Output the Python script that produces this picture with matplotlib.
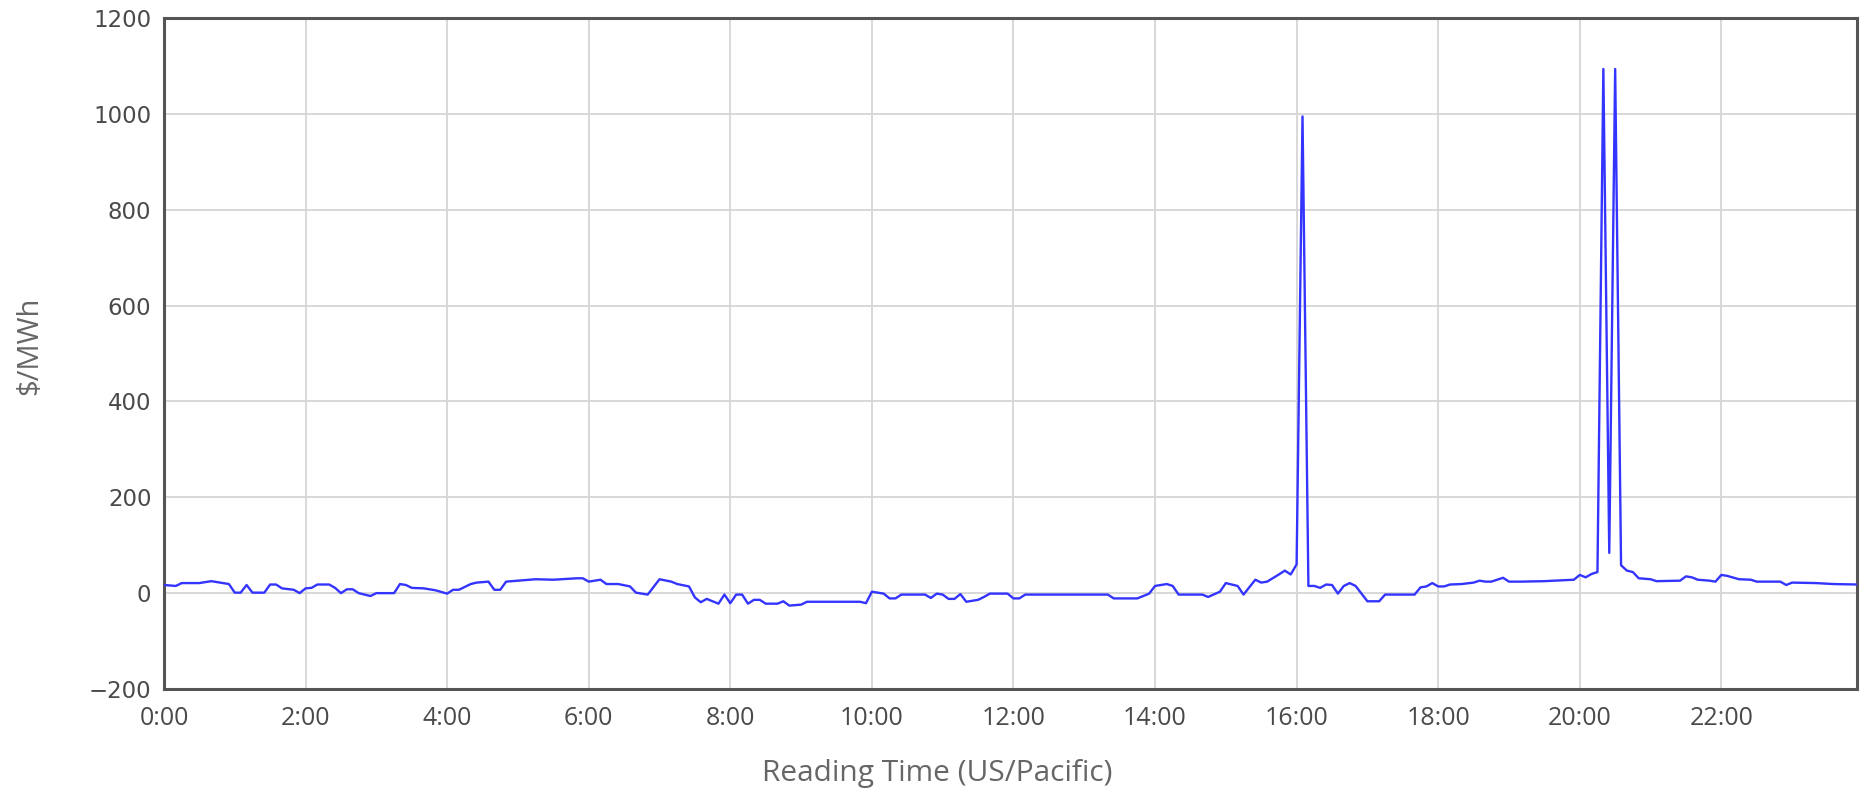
import matplotlib
matplotlib.use("Agg")
import matplotlib.pyplot as plt

# price readings, (time of day, $/MWh) where the line changes direction
times = ["0:00", "0:10", "0:15", "0:30", "0:40", "0:50", "0:55", "1:00", "1:05", "1:10",
         "1:15", "1:25", "1:30", "1:35", "1:40", "1:50", "1:55", "2:00", "2:05", "2:10",
         "2:20", "2:25", "2:30", "2:35", "2:40", "2:45", "2:55", "3:00", "3:15", "3:20",
         "3:25", "3:30", "3:40", "3:50", "4:00", "4:05", "4:10", "4:20", "4:25", "4:35",
         "4:40", "4:45", "4:50", "5:00", "5:15", "5:30", "5:50", "5:55", "6:00", "6:10",
         "6:15", "6:25", "6:35", "6:40", "6:50", "7:00", "7:10", "7:15", "7:25", "7:30",
         "7:35", "7:40", "7:45", "7:50", "7:55", "8:00", "8:05", "8:10", "8:15", "8:20",
         "8:25", "8:30", "8:40", "8:45", "8:50", "9:00", "9:05", "9:50", "9:55", "10:00",
         "10:10", "10:15", "10:20", "10:25", "10:45", "10:50", "10:55", "11:00", "11:05", "11:10",
         "11:15", "11:20", "11:30", "11:35", "11:40", "11:55", "12:00", "12:05", "12:10", "13:20",
         "13:25", "13:45", "13:50", "13:55", "14:00", "14:10", "14:15", "14:20", "14:40", "14:45",
         "14:55", "15:00", "15:10", "15:15", "15:25", "15:30", "15:35", "15:45", "15:50", "15:55",
         "16:00", "16:05", "16:10", "16:15", "16:20", "16:25", "16:30", "16:35", "16:40", "16:45",
         "16:50", "17:00", "17:10", "17:15", "17:40", "17:45", "17:50", "17:55", "18:00", "18:05",
         "18:10", "18:20", "18:30", "18:35", "18:40", "18:45", "18:55", "19:00", "19:10", "19:30",
         "19:55", "20:00", "20:05", "20:10", "20:15", "20:20", "20:25", "20:30", "20:35", "20:40",
         "20:45", "20:50", "21:00", "21:05", "21:25", "21:30", "21:35", "21:40", "21:50", "21:55",
         "22:00", "22:05", "22:15", "22:25", "22:30", "22:50", "22:55", "23:00", "23:20", "23:35",
         "23:55"]
prices = [17, 15, 21, 21, 25, 21, 19, 1, 1, 17,
          1, 1, 18, 18, 10, 7, 0, 10, 11, 18,
          18, 11, 0, 8, 8, 0, -6, 0, 0, 19,
          17, 11, 10, 6, -1, 7, 7, 19, 22, 24,
          7, 7, 24, 26, 29, 28, 31, 31, 24, 28,
          19, 19, 14, 1, -3, 29, 24, 19, 14, -9,
          -19, -12, -17, -22, -3, -21, -3, -3, -22, -14,
          -14, -22, -22, -17, -26, -24, -18, -18, -21, 3,
          -1, -11, -11, -3, -3, -10, -1, -3, -12, -12,
          -2, -18, -14, -8, -1, -1, -11, -11, -3, -3,
          -11, -11, -6, -1, 15, 19, 15, -3, -3, -8,
          3, 21, 15, -3, 28, 22, 24, 39, 47, 39,
          60, 995, 15, 15, 11, 18, 17, -1, 15, 21,
          15, -17, -17, -3, -3, 12, 14, 21, 14, 14,
          18, 19, 22, 26, 24, 24, 32, 24, 24, 25,
          28, 38, 33, 40, 44, 1094, 84, 1094, 58, 47,
          44, 31, 29, 25, 26, 35, 33, 28, 26, 24,
          38, 36, 29, 28, 24, 24, 17, 22, 21, 19,
          18]

hour_ticks = list(range(0, 24, 2))
hour_labels = ["%d:00" % h for h in hour_ticks]
y_ticks = list(range(-200, 1201, 200))

def to_hours(s):
    h, m = s.split(":")
    return int(h) + int(m) / 60.0

x = [to_hours(t) for t in times]

fig = plt.figure(figsize=(18.72, 7.91), dpi=100)
ax = fig.add_axes([0.0876, 0.129, 0.9044, 0.848])

ax.plot(x, prices, color="#3434ff", linewidth=1.7, zorder=3)

ax.set_xlim(0, to_hours("23:55"))
ax.set_ylim(-200, 1200)
ax.set_xticks(hour_ticks)
ax.set_xticklabels(hour_labels)
ax.set_yticks(y_ticks)

ax.grid(True, color="#d6d6d6", linewidth=1.3)
ax.set_axisbelow(True)
ax.tick_params(length=0, colors="#4a4a4a")
ax.tick_params(axis="y", pad=9, labelsize=16.5)
ax.tick_params(axis="x", pad=12, labelsize=18)
for lab in ax.get_xticklabels():
    lab.set_fontfamily("Open Sans")
for lab in ax.get_yticklabels():
    lab.set_fontfamily("DejaVu Sans")

for sp in ax.spines.values():
    sp.set_color("#555555")
    sp.set_linewidth(2.2)

# axis titles placed like the original page
fig.text(0.5005, 1 - 773 / 791, "Reading Time (US/Pacific)", fontsize=21.5,
         color="#666666", family="Open Sans", ha="center", va="center")
fig.text(30 / 1872, 1 - 346 / 791, r"\$/MWh", fontsize=21, color="#666666",
         family=["Liberation Sans Narrow", "Open Sans"], rotation=90,
         ha="center", va="center")

fig.savefig("out.png", dpi=100)
